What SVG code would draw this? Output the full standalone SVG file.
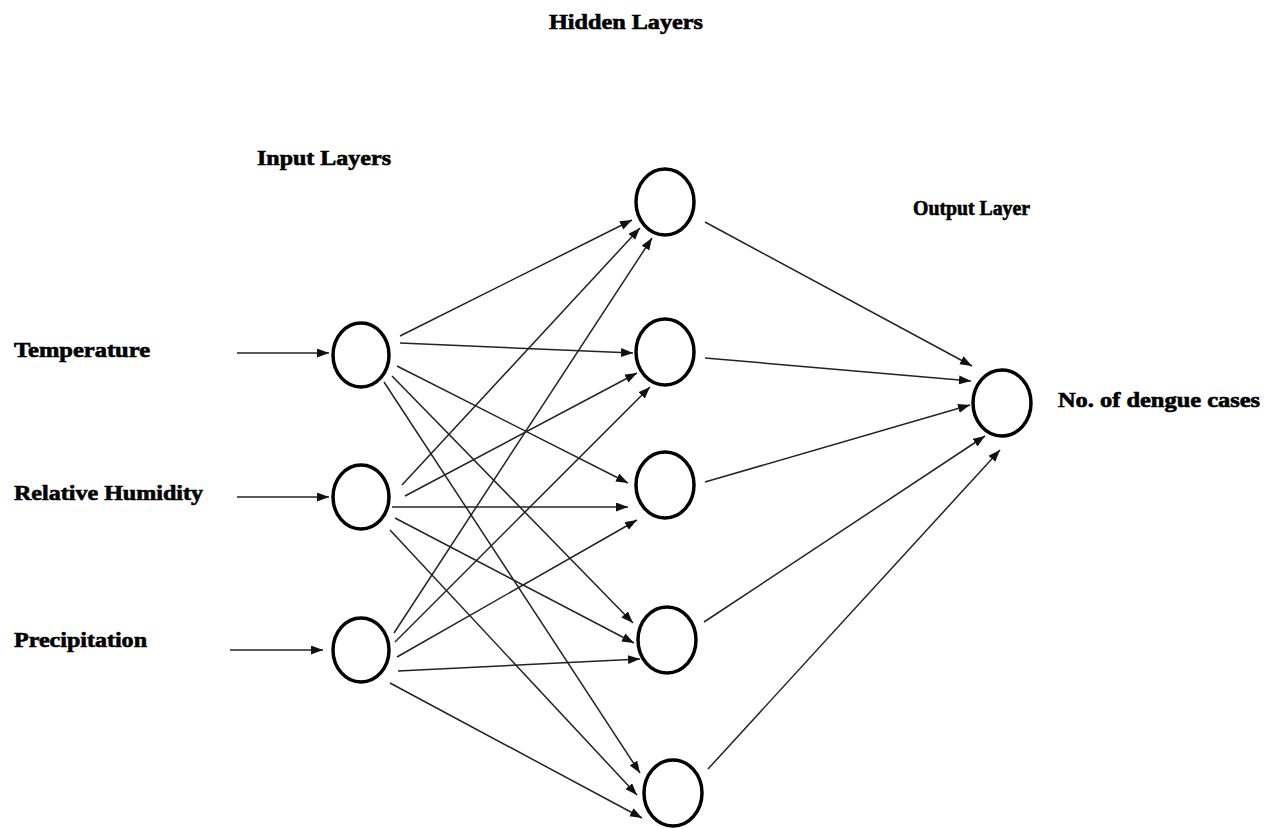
<svg xmlns="http://www.w3.org/2000/svg" width="1277" height="829" viewBox="0 0 1277 829">
<defs>
<marker id="ah" markerUnits="userSpaceOnUse" markerWidth="13" markerHeight="10" refX="12" refY="4.5" orient="auto">
<path d="M0,0 L12,4.5 L0,9 z" fill="#111"/>
</marker>
<style>
.lbl{font-family:"Liberation Serif","Times New Roman",serif;font-weight:bold;font-size:20px;fill:#000;stroke:#000;stroke-width:0.6}
.node{fill:#fff;stroke:#000;stroke-width:3.5}
.edge{stroke:#222;stroke-width:1.5;fill:none;marker-end:url(#ah)}
</style>
</defs>
<rect width="1277" height="829" fill="#fff"/>
<g id="titles">
<text class="lbl" x="549" y="29" textLength="154" lengthAdjust="spacingAndGlyphs">Hidden Layers</text>
<text class="lbl" x="257" y="165" textLength="134" lengthAdjust="spacingAndGlyphs">Input Layers</text>
<text class="lbl" x="913" y="215" textLength="117" lengthAdjust="spacingAndGlyphs">Output Layer</text>
</g>
<g id="connectors">
<line class="edge" x1="237" y1="353" x2="329" y2="353"/>
<line class="edge" x1="237" y1="497" x2="329" y2="497"/>
<line class="edge" x1="230" y1="650" x2="323" y2="650"/>
<line class="edge" x1="400" y1="336" x2="632" y2="220"/>
<line class="edge" x1="400" y1="343" x2="633" y2="353"/>
<line class="edge" x1="397" y1="366" x2="628" y2="483"/>
<line class="edge" x1="392" y1="376" x2="633" y2="623"/>
<line class="edge" x1="384" y1="382" x2="640" y2="773"/>
<line class="edge" x1="402" y1="485" x2="640" y2="228"/>
<line class="edge" x1="405" y1="496" x2="637" y2="373"/>
<line class="edge" x1="392" y1="507" x2="628" y2="507"/>
<line class="edge" x1="395" y1="518" x2="634" y2="643"/>
<line class="edge" x1="390" y1="530" x2="637" y2="795"/>
<line class="edge" x1="394" y1="633" x2="652" y2="238"/>
<line class="edge" x1="395" y1="642" x2="650" y2="387"/>
<line class="edge" x1="397" y1="657" x2="637" y2="520"/>
<line class="edge" x1="398" y1="671" x2="640" y2="659"/>
<line class="edge" x1="390" y1="683" x2="642" y2="818"/>
<line class="edge" x1="705" y1="222" x2="972" y2="366"/>
<line class="edge" x1="705" y1="358" x2="971" y2="381"/>
<line class="edge" x1="705" y1="482" x2="970" y2="405"/>
<line class="edge" x1="704" y1="622" x2="985" y2="436"/>
<line class="edge" x1="708" y1="769" x2="1000" y2="450"/>
</g>
<g id="input-temperature">
<text class="lbl" x="14" y="357" textLength="136" lengthAdjust="spacingAndGlyphs">Temperature</text>
<ellipse class="node" cx="361" cy="355" rx="28" ry="32"/>
</g>
<g id="input-humidity">
<text class="lbl" x="14" y="500" textLength="189" lengthAdjust="spacingAndGlyphs">Relative Humidity</text>
<ellipse class="node" cx="361" cy="497" rx="28" ry="32"/>
</g>
<g id="input-precipitation">
<text class="lbl" x="14" y="647" textLength="133" lengthAdjust="spacingAndGlyphs">Precipitation</text>
<ellipse class="node" cx="361" cy="650" rx="28" ry="32"/>
</g>
<g id="hidden-1"><ellipse class="node" cx="665" cy="202" rx="29" ry="33"/></g>
<g id="hidden-2"><ellipse class="node" cx="665" cy="352" rx="29" ry="33"/></g>
<g id="hidden-3"><ellipse class="node" cx="665" cy="485" rx="29" ry="33"/></g>
<g id="hidden-4"><ellipse class="node" cx="667" cy="640" rx="29" ry="33"/></g>
<g id="hidden-5"><ellipse class="node" cx="673" cy="793" rx="29" ry="33"/></g>
<g id="output">
<ellipse class="node" cx="1002" cy="403" rx="29" ry="33"/>
<text class="lbl" x="1058" y="407" textLength="202" lengthAdjust="spacingAndGlyphs">No. of dengue cases</text>
</g>
</svg>
